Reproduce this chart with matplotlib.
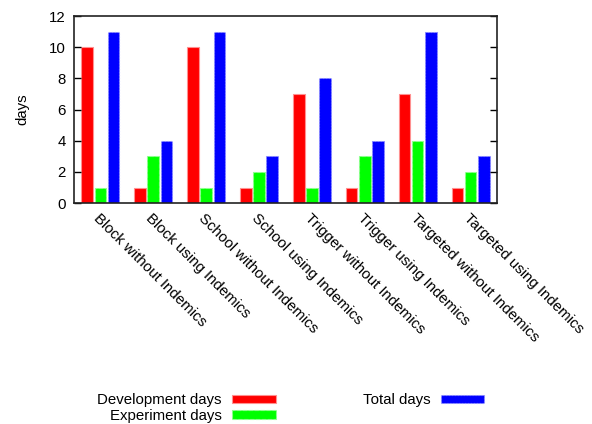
import numpy as np
import matplotlib
matplotlib.use("Agg")
import matplotlib.pyplot as plt

plt.rcParams['font.family'] = ['Liberation Sans', 'DejaVu Sans']

categories = ["Block without Indemics", "Block using Indemics",
              "School without Indemics", "School using Indemics",
              "Trigger without Indemics", "Trigger using Indemics",
              "Targeted without Indemics", "Targeted using Indemics"]
development = [10, 1, 10, 1, 7, 1, 7, 1]
experiment = [1, 3, 1, 2, 1, 3, 4, 2]
total = [11, 4, 11, 3, 8, 4, 11, 3]

fig = plt.figure(figsize=(5.92, 4.24), dpi=100)
ax = fig.add_axes([0.125, 0.521, 0.7145, 0.441])

x = np.arange(len(categories))
w = 0.22
ax.bar(x - 0.25, development, w, color='#ff0000', edgecolor='#ff9090',
       linewidth=0.8, label='Development days')
ax.bar(x, experiment, w, color='#00ff00', edgecolor='#90ff90',
       linewidth=0.8, linestyle='--', label='Experiment days')
ax.bar(x + 0.25, total, w, color='#0000ff', edgecolor='#9090ff',
       linewidth=0.8, linestyle=':', label='Total days')

ax.set_xlim(-0.5, len(categories) - 0.5)
ax.set_ylim(0, 12)
ax.set_yticks(range(0, 13, 2))
ax.set_xticks(x)
ax.set_xticklabels(categories, rotation=-45, ha='left', va='top',
                   rotation_mode='anchor', fontsize=10.8)
ax.tick_params(axis='x', length=0, pad=6)
ax.tick_params(axis='y', direction='in', length=5, right=True,
               labelsize=10.8, width=1, pad=6)
for s in ax.spines.values():
    s.set_linewidth(1.2)
    s.set_color('#222222')
ax.set_ylabel('days', fontsize=10.8, labelpad=14)

fig.legend(loc='center', bbox_to_anchor=(0.491, 0.038), ncol=2,
           frameon=False, markerfirst=False, fontsize=10.8,
           handlelength=2.9, handleheight=0.5, labelspacing=0.1,
           columnspacing=5.8, handletextpad=0.7)

fig.savefig('out.png', dpi=100)
